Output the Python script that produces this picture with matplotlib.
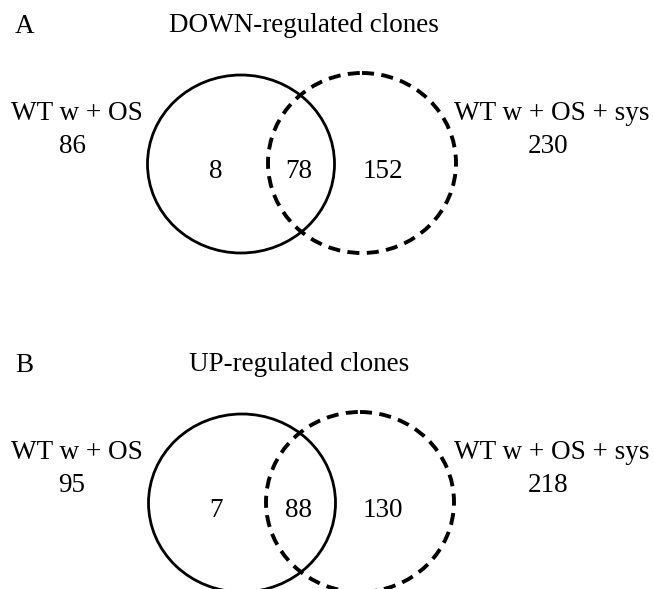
import matplotlib
matplotlib.use("Agg")
import matplotlib.pyplot as plt
from matplotlib.patches import Ellipse

# Venn counts per panel
panel_letters = ["A", "B"]
panel_titles = ["DOWN-regulated clones", "UP-regulated clones"]
left_name = "WT w + OS"
right_name = "WT w + OS + sys"
left_totals = [86, 95]
right_totals = [230, 218]
only_left = [8, 7]
both = [78, 88]
only_right = [152, 130]

plt.rcParams['font.family'] = ['Liberation Serif', 'DejaVu Serif']

fig = plt.figure(figsize=(6.53, 5.89), dpi=100)
ax = fig.add_axes([0, 0, 1, 1])
ax.set_xlim(0, 653)
ax.set_ylim(589, 0)
ax.axis('off')

fs = 19.5
offsets = [0, 339]
title_x = [304, 299]
solid_x = [241, 242]
dashed_x = [362, 360]

for i, dy in enumerate(offsets):
    ax.text(15, 33 + dy, panel_letters[i], fontsize=fs, ha='left', va='baseline')
    ax.text(title_x[i], 32 + dy, panel_titles[i], fontsize=fs, ha='center', va='baseline')

    # circles
    ax.add_patch(Ellipse((solid_x[i], 164 + dy), 187, 178, fill=False,
                         edgecolor='black', linewidth=2.0))
    ax.add_patch(Ellipse((dashed_x[i], 163 + dy), 188, 180, fill=False,
                         edgecolor='black', linewidth=2.8,
                         linestyle=(0, (3.1, 1.9))))

    # outer labels
    ax.text(77, 120 + dy, left_name, fontsize=fs, ha='center', va='baseline')
    ax.text(72, 153 + dy, str(left_totals[i]), fontsize=fs, ha='center', va='baseline')
    ax.text(650, 120 + dy, right_name, fontsize=fs, ha='right', va='baseline')
    ax.text(548, 153 + dy, str(right_totals[i]), fontsize=fs, ha='center', va='baseline')

    # region counts
    ax.text(216, 178 + dy, str(only_left[i]), fontsize=fs, ha='center', va='baseline')
    ax.text(299, 178 + dy, str(both[i]), fontsize=fs, ha='center', va='baseline')
    ax.text(383, 178 + dy, str(only_right[i]), fontsize=fs, ha='center', va='baseline')

fig.savefig("out.png", dpi=100)
